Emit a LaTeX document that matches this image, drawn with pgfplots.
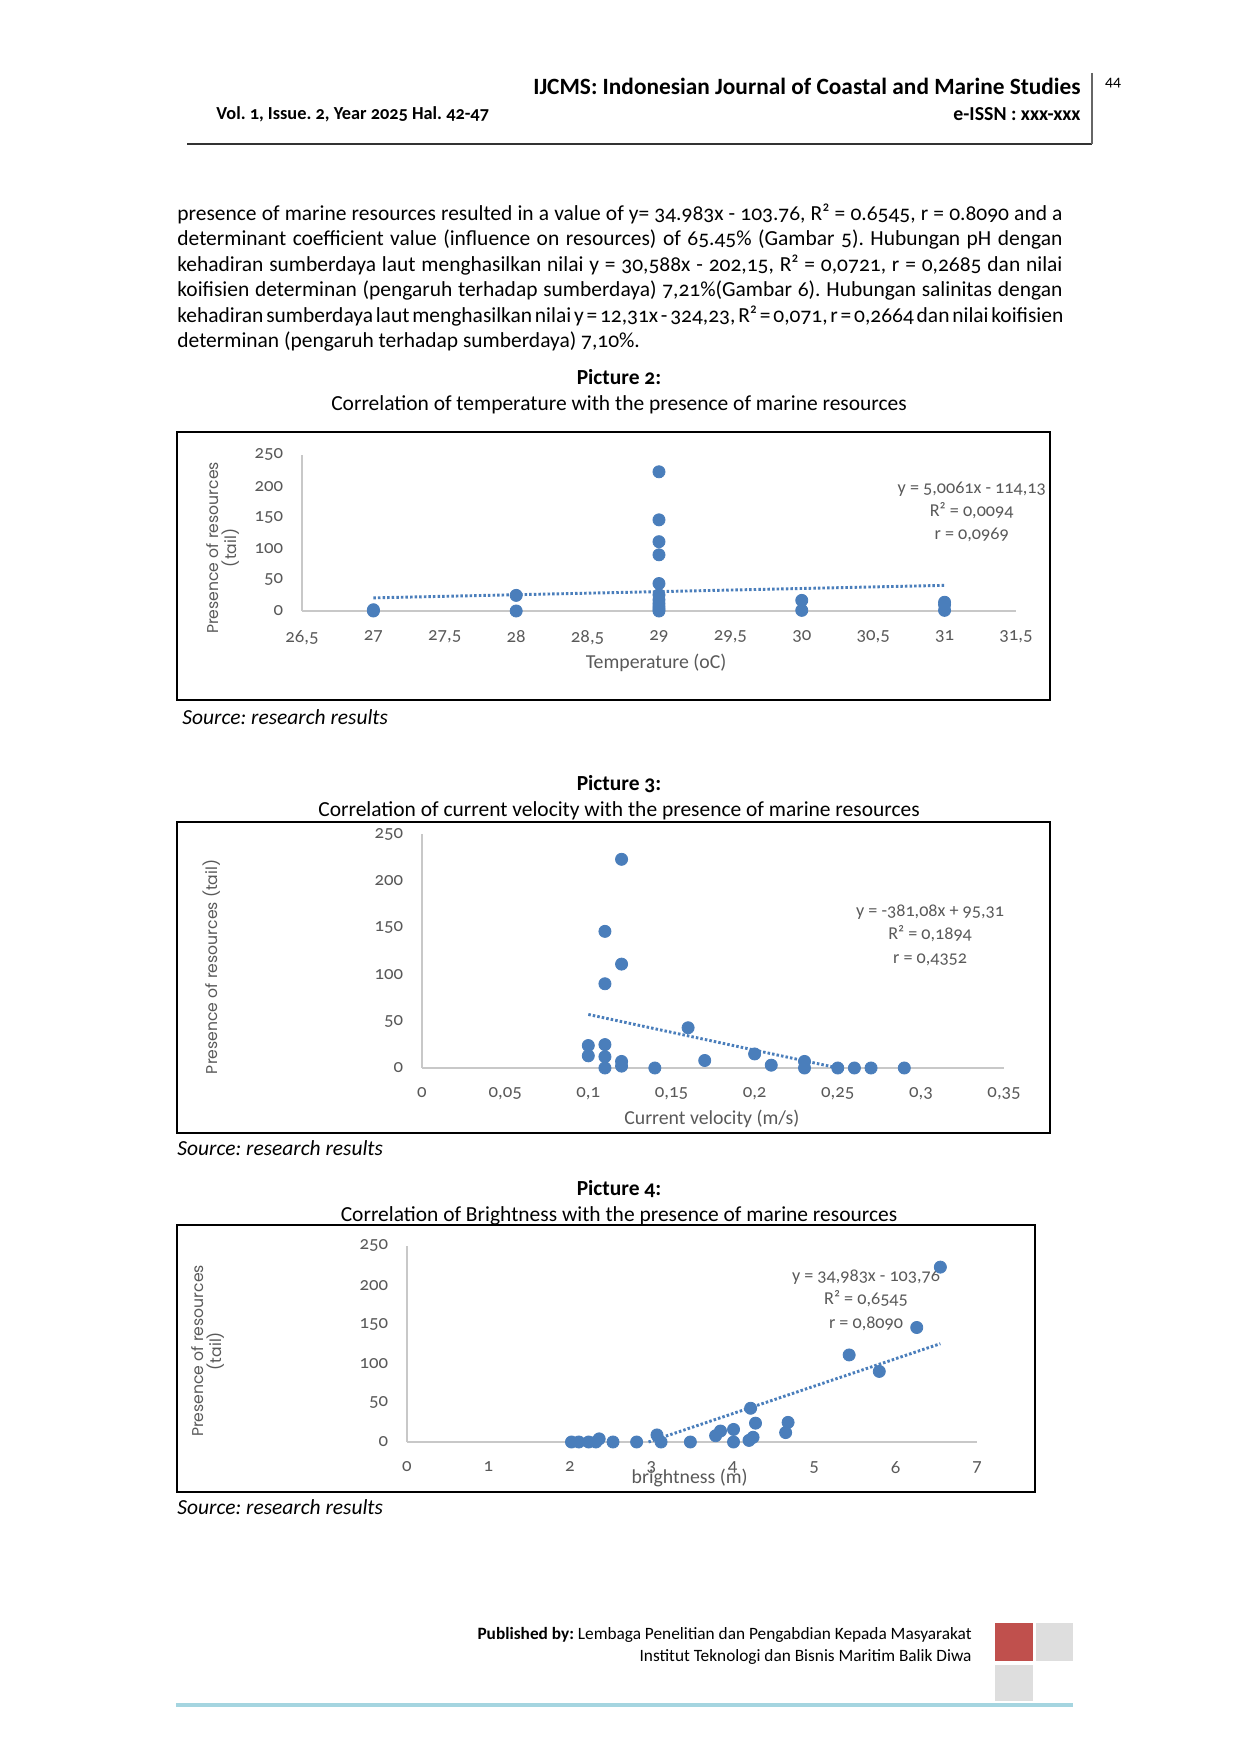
\documentclass[border=0pt]{standalone}
\usepackage{fontspec}
\setmainfont{Carlito}[Numbers=OldStyle]
\newfontfamily\poppins{Poppins}
\usepackage{pgfplots}
\pgfplotsset{compat=1.18}
\definecolor{ptblue}{HTML}{4A7EBB}
\definecolor{axgray}{HTML}{C8C8C8}
\definecolor{lblgray}{HTML}{595959}
\definecolor{hdrred}{HTML}{C0504D}
\definecolor{boxgray}{HTML}{DEDEDE}
\definecolor{cyanline}{HTML}{A5D5E0}
\frenchspacing
\newcommand\bodyfont{\fontsize{10.3}{12.3}\selectfont}
\newcommand\jl[1]{\makebox[424.8pt][s]{#1}}
\tikzset{eqn/.style={align=center, font=\fontsize{8.7}{11.2}\selectfont, text=lblgray}}
\pgfplotsset{
  excelscatter/.style={
    scale only axis,
    axis lines=left,
    axis line style={-, draw=axgray, line width=0.9pt},
    major tick length=0pt,
    enlargelimits=false,
    scaled ticks=false,
    ymin=0, ymax=250, ytick={0,50,...,250},
    tick label style={font=\fontsize{9}{10}\selectfont, text=lblgray},
    /pgf/number format/assume math mode=true,
    /pgf/number format/fixed,
    /pgf/number format/precision=2,
    /pgf/number format/use comma,
    /pgf/number format/1000 sep={},
    xticklabel style={yshift=-6pt},
    yticklabel style={xshift=-5.5pt},
    xlabel style={font=\fontsize{9.5}{11}\selectfont, text=lblgray, anchor=center},
    ylabel style={font=\poppins\fontsize{7.5}{9}\selectfont, text=lblgray, anchor=center, align=center},
    clip=false,
  },
  datapts/.style={only marks, mark=*, mark size=2.9pt, mark options={fill=ptblue, draw=ptblue}},
  trend/.style={no marks, ptblue, line width=1.4pt, dash pattern=on 1.2pt off 1pt},
}
\begin{document}
\begin{tikzpicture}[x=0.48pt,y=0.48pt]
\useasboundingbox (0,0) rectangle (1240,1754);
\fill[white] (0,0) rectangle (1240,1754);
% header
\node[anchor=east, font=\bfseries\fontsize{11.2}{13}\selectfont, inner sep=0pt] at (1081,1668) {IJCMS: Indonesian Journal of Coastal and Marine Studies};
\node[font=\fontsize{7.5}{9}\selectfont, inner sep=0pt] at (1113,1671) {44};
\node[anchor=west, font=\bfseries\fontsize{8.8}{11}\selectfont, inner sep=0pt] at (216,1640) {Vol. 1, Issue. 2, Year 2025 Hal. 42-47};
\node[anchor=east, font=\bfseries\fontsize{9.5}{11}\selectfont, inner sep=0pt] at (1081,1640) {e-ISSN : xxx-xxx};
\draw[black!80, line width=0.7pt] (187,1610) -- (1092,1610);
\draw[black!60, line width=0.6pt] (1092,1681) -- (1092,1610);
% paragraph
\begin{scope}[every node/.style={anchor=base west, inner sep=0pt, font=\bodyfont}]
\node at (177,1533.6) {\jl{presence of marine resources resulted in a value of y= 34.983x - 103.76, R² = 0.6545, r = 0.8090 and a}};
\node at (177,1508.1) {\jl{determinant coefficient value (influence on resources) of 65.45\% (Gambar 5). Hubungan pH dengan}};
\node at (177,1482.6) {\jl{kehadiran sumberdaya laut menghasilkan nilai y = 30,588x - 202,15, R² = 0,0721, r = 0,2685 dan nilai}};
\node at (177,1457.1) {\jl{koifisien determinan (pengaruh terhadap sumberdaya) 7,21\%(Gambar 6). Hubungan salinitas dengan}};
\node at (177,1431.6) {\spaceskip=0.13em plus 0.2em\relax\jl{kehadiran sumberdaya laut menghasilkan nilai y = 12,31x - 324,23, R² = 0,071, r = 0,2664 dan nilai koifisien}};
\node at (177,1406.1) {determinan (pengaruh terhadap sumberdaya) 7,10\%.};
\end{scope}
% captions
\node[font=\bfseries\bodyfont] at (619,1377) {Picture 2:};
\node[font=\bodyfont] at (619,1349) {Correlation of temperature with the presence of marine resources};
\node[font=\bfseries\bodyfont] at (619,970) {Picture 3:};
\node[font=\bodyfont] at (619,943) {Correlation of current velocity with the presence of marine resources};
\node[font=\bfseries\bodyfont] at (619,565) {Picture 4:};
\node[font=\bodyfont] at (619,538) {Correlation of Brightness with the presence of marine resources};
% sources
\node[anchor=west, font=\itshape\bodyfont, inner sep=0pt] at (182,1037) {Source: research results};
\node[anchor=west, font=\itshape\bodyfont, inner sep=0pt] at (177,606) {Source: research results};
\node[anchor=west, font=\itshape\bodyfont, inner sep=0pt] at (177,247) {Source: research results};
% chart boxes
\draw[black, line width=1pt] (177,1054) rectangle (1050,1322);
\draw[black, line width=1pt] (177,621) rectangle (1050,932);
\draw[black, line width=1pt] (177,262) rectangle (1035,529);
\coordinate (A1) at (302,1143);
\coordinate (A2) at (422,686);
\coordinate (A3) at (407,312);
% chart 1
\begin{axis}[excelscatter, at={(A1)}, anchor=south west,
  width=342.7pt, height=74.9pt,
  xmin=26.5, xmax=31.5, xtick={26.5,27,...,31.5},
  xlabel={Temperature (oC)}, xlabel style={at={(axis description cs:0.496,-0.333)}},
  ylabel={Presence of resources\\(tail)}, ylabel style={at={(axis description cs:-0.1106,0.404)}},
]
\addplot[trend] coordinates {(27,21.03) (31,41.06)};
\addplot[datapts] coordinates {
(27,0) (27,2) (28,0) (28,25) (29,0) (29,3) (29,7) (29,12) (29,18) (29,26) (29,44) (29,90) (29,111) (29,146) (29,223) (30,1) (30,17) (31,1) (31,10) (31,14)};
\node[eqn] at (axis cs:31.19,159) {y = 5,0061x - 114,13\\R² = 0,0094\\r = 0,0969};
\end{axis}
% chart 2
\begin{axis}[excelscatter, at={(A2)}, anchor=south west,
  width=279.4pt, height=112.3pt,
  xmin=0, xmax=0.35, xtick={0,0.05,0.1,0.15,0.2,0.25,0.3,0.35},
  xlabel={Current velocity (m/s)}, xlabel style={at={(axis description cs:0.498,-0.218)}},
  ylabel={Presence of resources (tail)}, ylabel style={at={(axis description cs:-0.361,0.432)}},
]
\addplot[trend] coordinates {(0.10,57.20) (0.25,0.04)};
\addplot[datapts] coordinates {
(0.10,24) (0.10,13) (0.11,146) (0.11,90) (0.11,25) (0.11,12) (0.11,0) (0.12,223) (0.12,111) (0.12,7) (0.12,2) (0.14,0) (0.16,43) (0.17,8) (0.20,15) (0.21,3) (0.23,7) (0.23,0) (0.25,0) (0.26,0) (0.27,0) (0.29,0)};
\node[eqn] at (axis cs:0.3055,142) {y = -381,08x + 95,31\\R² = 0,1894\\r = 0,4352};
\end{axis}
% chart 3
\begin{axis}[excelscatter, at={(A3)}, anchor=south west,
  width=273.6pt, height=94.1pt,
  xmin=0, xmax=7, xtick={0,1,...,7},
  xlabel={brightness (m)}, xlabel style={at={(axis description cs:0.496,-0.184)}},
  ylabel={Presence of resources\\(tail)}, ylabel style={at={(axis description cs:-0.349,0.464)}},
]
\addplot[trend] coordinates {(2.966,0) (6.55,125.38)};
\addplot[datapts] coordinates {
(2.02,0) (2.11,0) (2.23,0) (2.32,0) (2.36,4) (2.53,0) (2.82,0) (3.07,9) (3.12,0) (3.48,0) (3.79,8) (3.85,14) (4.01,16) (4.01,0) (4.20,2) (4.22,43) (4.25,6) (4.28,24) (4.65,12) (4.68,25) (5.43,111) (5.80,90) (6.26,146) (6.55,223)};
\node[eqn] at (axis cs:5.637,181) {y = 34,983x - 103,76\\R² = 0,6545\\r = 0,8090};
\end{axis}
% footer
\node[anchor=east, font=\fontsize{8.3}{10}\selectfont, inner sep=0pt] at (972,119) {\textbf{Published by:} Lembaga Penelitian dan Pengabdian Kepada Masyarakat};
\node[anchor=east, font=\fontsize{8.3}{10}\selectfont, inner sep=0pt] at (972,97) {Institut Teknologi dan Bisnis Maritim Balik Diwa};
\fill[hdrred] (995,93) rectangle (1033,131);
\fill[boxgray] (1036,93) rectangle (1073,131);
\fill[boxgray] (995,53) rectangle (1033,89);
\draw[cyanline, line width=1.5pt] (176,49) -- (1073,49);
\end{tikzpicture}
\end{document}
